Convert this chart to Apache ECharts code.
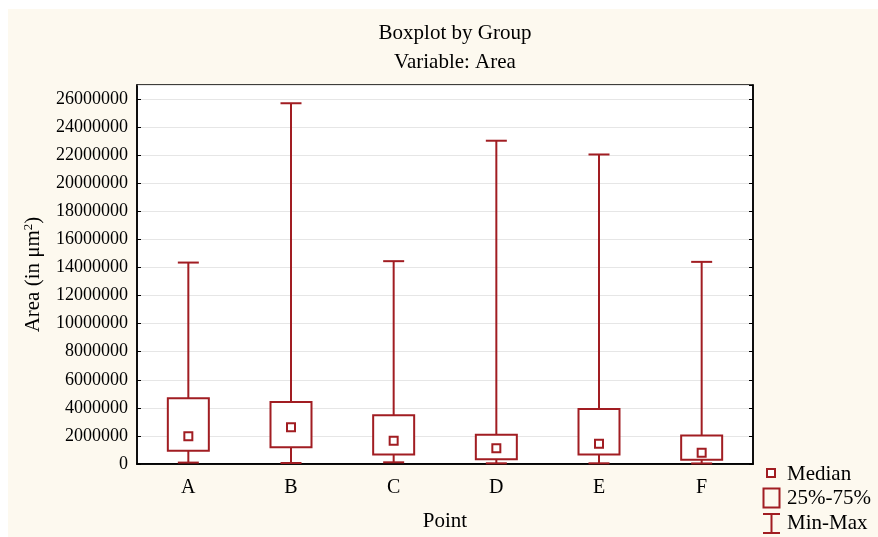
<!DOCTYPE html>
<html>
<head>
<meta charset="utf-8">
<script src="https://cdn.jsdelivr.net/npm/echarts@6/dist/echarts.min.js"></script>
<style>
  html, body { margin: 0; padding: 0; background: #fff; }
  #chart { width: 878px; height: 537px; }
</style>
</head>
<body>
<div id="chart"></div>
<script>
// values (um^2)
const groups = ['A', 'B', 'C', 'D', 'E', 'F']
const mins = [100000, 70000, 120000, 50000, 50000, 40000]
const q1s = [950000, 1200000, 670000, 330000, 670000, 310000]
const medians = [1980000, 2620000, 1660000, 1130000, 1450000, 810000]
const q3s = [4680000, 4420000, 3470000, 2080000, 3920000, 2030000]
const maxs = [14350000, 25700000, 14450000, 23030000, 22050000, 14400000]

const red = '#a11d22'
const font = 'Liberation Serif'

const boxData = groups.map((g, i) => [i, mins[i], q1s[i], medians[i], q3s[i], maxs[i]])

function renderBox(params, api) {
  const idx = api.value(0)
  const pMin = api.coord([idx, api.value(1)])
  const pQ1 = api.coord([idx, api.value(2)])
  const pMed = api.coord([idx, api.value(3)])
  const pQ3 = api.coord([idx, api.value(4)])
  const pMax = api.coord([idx, api.value(5)])
  const x = pMin[0]
  const boxHalf = 20.5
  const capHalf = 10.5
  const medHalf = 4
  const st = { stroke: red, lineWidth: 2, fill: null }
  return {
    type: 'group',
    children: [
      { type: 'line', shape: { x1: x, y1: pMin[1], x2: x, y2: pQ1[1] }, style: st },
      { type: 'line', shape: { x1: x, y1: pQ3[1], x2: x, y2: pMax[1] }, style: st },
      { type: 'line', shape: { x1: x - capHalf, y1: pMin[1], x2: x + capHalf, y2: pMin[1] }, style: st },
      { type: 'line', shape: { x1: x - capHalf, y1: pMax[1], x2: x + capHalf, y2: pMax[1] }, style: st },
      { type: 'rect', shape: { x: x - boxHalf, y: pQ3[1], width: boxHalf * 2, height: pQ1[1] - pQ3[1] },
        style: { stroke: red, lineWidth: 2, fill: '#fff' } },
      { type: 'rect', shape: { x: x - medHalf, y: pMed[1] - medHalf, width: medHalf * 2, height: medHalf * 2 },
        style: { stroke: red, lineWidth: 2, fill: '#fff' } }
    ]
  }
}

const legendText = { fontFamily: font, fontSize: 21, fill: '#000', textVerticalAlign: 'middle' }

const chart = echarts.init(document.getElementById('chart'))
chart.setOption({
  backgroundColor: '#fff',
  animation: false,
  textStyle: { fontFamily: font },
  title: [
    { text: 'Boxplot by Group', left: 450, top: 18, textAlign: 'center',
      textStyle: { fontFamily: font, fontSize: 21, fontWeight: 'normal', color: '#000' } },
    { text: 'Variable: Area', left: 450, top: 47, textAlign: 'center',
      textStyle: { fontFamily: font, fontSize: 21, fontWeight: 'normal', color: '#000' } }
  ],
  graphic: [
    { type: 'rect', z: -10, silent: true, shape: { x: 8, y: 9, width: 870, height: 528 }, style: { fill: '#fdf9ef' } },
    // legend
    { type: 'rect', shape: { x: 767, y: 469, width: 8, height: 8 }, style: { stroke: red, lineWidth: 2, fill: '#fff' } },
    { type: 'text', x: 787, y: 474, style: Object.assign({ text: 'Median' }, legendText) },
    { type: 'rect', shape: { x: 763.5, y: 488.5, width: 16, height: 19 }, style: { stroke: red, lineWidth: 2, fill: '#fdf9ef' } },
    { type: 'text', x: 787, y: 498, style: Object.assign({ text: '25%-75%' }, legendText) },
    { type: 'line', shape: { x1: 771.5, y1: 514, x2: 771.5, y2: 533 }, style: { stroke: red, lineWidth: 2 } },
    { type: 'line', shape: { x1: 763, y1: 514, x2: 780, y2: 514 }, style: { stroke: red, lineWidth: 2 } },
    { type: 'line', shape: { x1: 763, y1: 533, x2: 780, y2: 533 }, style: { stroke: red, lineWidth: 2 } },
    { type: 'text', x: 787, y: 523, style: Object.assign({ text: 'Min-Max' }, legendText) }
  ],
  grid: {
    left: 137, top: 85, right: 125, bottom: 71,
    show: true, backgroundColor: '#fff', borderColor: '#000', borderWidth: 1.5
  },
  xAxis: [
    {
      type: 'category', data: groups, position: 'bottom',
      name: 'Point', nameLocation: 'middle', nameGap: 47,
      nameTextStyle: { fontFamily: font, fontSize: 21, color: '#000' },
      axisLine: { lineStyle: { color: '#000', width: 1.5 } },
      axisTick: { inside: true, alignWithLabel: true, length: 4, lineStyle: { color: '#000' } },
      axisLabel: { fontFamily: font, fontSize: 20, color: '#000', margin: 14 },
      splitLine: { show: false }
    },
    {
      type: 'category', data: groups, position: 'top',
      axisLine: { lineStyle: { color: '#000', width: 1.5 } },
      axisTick: { inside: true, alignWithLabel: true, length: 4, lineStyle: { color: '#000' } },
      axisLabel: { show: false }
    }
  ],
  yAxis: [
    {
      type: 'value', min: 0, max: 27000000, interval: 2000000, position: 'left',
      name: 'Area (in μm{sup|2})', nameLocation: 'middle', nameGap: 92, nameRotate: 90,
      nameTextStyle: { fontFamily: font, fontSize: 21, color: '#000',
        rich: { sup: { fontFamily: font, fontSize: 13, color: '#000', padding: [0, 0, 10, 0] } } },
      axisLine: { show: true, lineStyle: { color: '#000', width: 1.5 } },
      axisTick: { show: true, inside: true, length: 4, lineStyle: { color: '#000' } },
      axisLabel: { fontFamily: font, fontSize: 18, color: '#000', margin: 9, showMaxLabel: false,
        formatter: v => String(v) },
      splitLine: { show: true, lineStyle: { color: '#e6e6e6', width: 1 } }
    },
    {
      type: 'value', min: 0, max: 27000000, interval: 2000000, position: 'right',
      axisLine: { show: true, lineStyle: { color: '#000', width: 1.5 } },
      axisTick: { show: true, inside: true, length: 4, lineStyle: { color: '#000' } },
      axisLabel: { show: false },
      splitLine: { show: false }
    }
  ],
  series: [{
    type: 'custom',
    name: 'Area',
    renderItem: renderBox,
    encode: { x: 0, y: [1, 2, 3, 4, 5] },
    data: boxData,
    z: 5
  }]
})
</script>
</body>
</html>
